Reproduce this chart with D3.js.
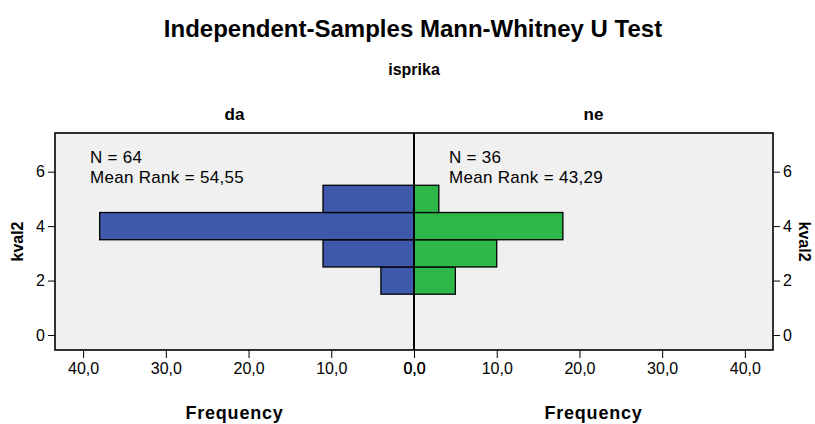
<!DOCTYPE html>
<html>
<head>
<meta charset="utf-8">
<script src="https://cdn.jsdelivr.net/npm/d3@7"></script>
<style>
  html, body { margin: 0; padding: 0; background: #ffffff; }
  svg text { font-family: "Liberation Sans", Arial, sans-serif; fill: #000; }
</style>
</head>
<body>
<svg id="chart" width="815" height="424"></svg>
<script>
// kval2 bins (centre values) and frequency per group
const bins = [2, 3, 4, 5];
const freqDa = [4, 11, 38, 11];
const freqNe = [5, 10, 18, 3];
const groups = ["da", "ne"];
const groupN = [64, 36];
const meanRanks = ["54,55", "43,29"];
const freqTicks = [0, 10, 20, 30, 40];
const yTicks = [0, 2, 4, 6];

const svg = d3.select("#chart");
const plotL = 55, plotR = 773, plotT = 133, plotB = 350, mid = 414;

const xLeft = d3.scaleLinear().domain([0, 43.4]).range([mid, plotL]);
const xRight = d3.scaleLinear().domain([0, 43.4]).range([mid, plotR]);
const y = d3.scaleLinear().domain([-0.55, 7.42]).range([plotB, plotT]);

// plot background
svg.append("rect").attr("x", plotL).attr("y", plotT)
  .attr("width", plotR - plotL).attr("height", plotB - plotT)
  .attr("fill", "#f0f0f0");

// bars
const fmt = v => d3.format(".1f")(v).replace(".", ",");
function bars(scale, values, color) {
  svg.append("g").selectAll("rect").data(bins.map((b, i) => ({ b, v: values[i] })))
    .join("rect")
    .attr("x", d => Math.min(scale(0), scale(d.v)))
    .attr("width", d => Math.abs(scale(d.v) - scale(0)))
    .attr("y", d => y(d.b + 0.5))
    .attr("height", d => y(d.b - 0.5) - y(d.b + 0.5))
    .attr("fill", color).attr("stroke", "#000").attr("stroke-width", 1.3);
}
bars(xLeft, freqDa, "#3e59ab");
bars(xRight, freqNe, "#2fb84a");

// frame and centre line
svg.append("rect").attr("x", plotL).attr("y", plotT)
  .attr("width", plotR - plotL).attr("height", plotB - plotT)
  .attr("fill", "none").attr("stroke", "#000").attr("stroke-width", 1.6);
svg.append("line").attr("x1", mid).attr("x2", mid).attr("y1", plotT).attr("y2", plotB)
  .attr("stroke", "#000").attr("stroke-width", 2);

// axes
function styleAxis(g) {
  g.select(".domain").remove();
  g.selectAll(".tick line").attr("stroke", "#000").attr("stroke-width", 1);
  g.selectAll(".tick text").attr("font-size", 16).attr("font-family", "Liberation Sans, Arial, sans-serif");
}
svg.append("g").attr("transform", `translate(0,${plotB})`)
  .call(d3.axisBottom(xLeft).tickValues(freqTicks).tickFormat(fmt).tickSize(8).tickPadding(5))
  .call(styleAxis);
svg.append("g").attr("transform", `translate(0,${plotB})`)
  .call(d3.axisBottom(xRight).tickValues(freqTicks).tickFormat(fmt).tickSize(8).tickPadding(5))
  .call(styleAxis);
svg.append("g").attr("transform", `translate(${plotL},0)`)
  .call(d3.axisLeft(y).tickValues(yTicks).tickFormat(d3.format("d")).tickSize(7).tickPadding(3))
  .call(styleAxis);
svg.append("g").attr("transform", `translate(${plotR},0)`)
  .call(d3.axisRight(y).tickValues(yTicks).tickFormat(d3.format("d")).tickSize(7).tickPadding(3))
  .call(styleAxis);

// titles
svg.append("text").attr("x", 413).attr("y", 37).attr("text-anchor", "middle")
  .attr("font-size", 24).attr("font-weight", "bold").text("Independent-Samples Mann-Whitney U Test");
svg.append("text").attr("x", 414).attr("y", 75).attr("text-anchor", "middle")
  .attr("font-size", 16).attr("font-weight", "bold").text("isprika");

const centres = [(plotL + mid) / 2, (mid + plotR) / 2];
groups.forEach((g, i) => {
  svg.append("text").attr("x", centres[i]).attr("y", 120).attr("text-anchor", "middle")
    .attr("font-size", 17).attr("font-weight", "bold").text(g);
  svg.append("text").attr("x", centres[i]).attr("y", 419).attr("text-anchor", "middle")
    .attr("font-size", 18).attr("font-weight", "bold").attr("letter-spacing", 0.8).text("Frequency");
});

// group annotations
const annX = [90, 449];
groups.forEach((g, i) => {
  svg.append("text").attr("x", annX[i]).attr("y", 163).attr("font-size", 17)
    .attr("letter-spacing", 0.3).text(`N = ${groupN[i]}`);
  svg.append("text").attr("x", annX[i]).attr("y", 183).attr("font-size", 17)
    .attr("letter-spacing", 0.3).text(`Mean Rank = ${meanRanks[i]}`);
});

// y-axis titles
svg.append("text").attr("transform", `translate(23,${(plotT + plotB) / 2}) rotate(-90)`)
  .attr("text-anchor", "middle").attr("font-size", 16).attr("font-weight", "bold").text("kval2");
svg.append("text").attr("transform", `translate(799,${(plotT + plotB) / 2}) rotate(90)`)
  .attr("text-anchor", "middle").attr("font-size", 16).attr("font-weight", "bold").text("kval2");
</script>
</body>
</html>
